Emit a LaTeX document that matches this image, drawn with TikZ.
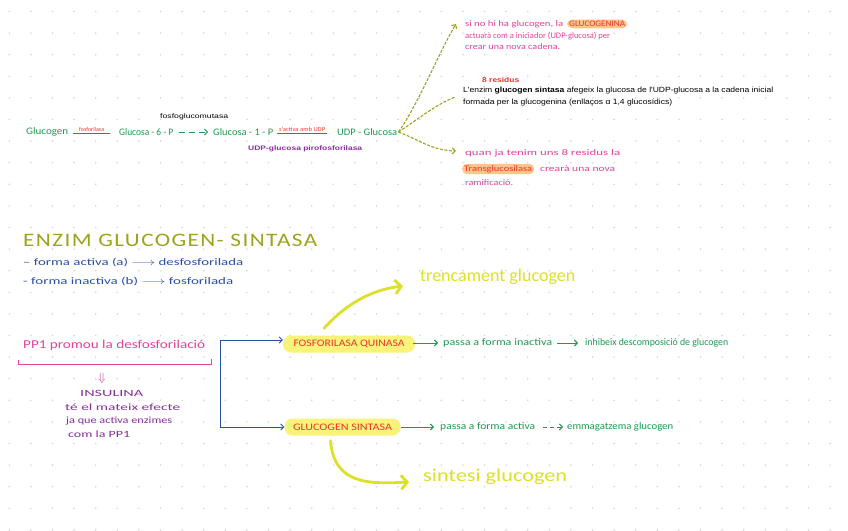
\documentclass[tikz,border=0pt]{standalone}
\usepackage{fontspec}
\usepackage{graphicx}
\setmainfont{Carlito}
\newfontfamily\printfont{Liberation Sans}
\newfontfamily\headfont[LetterSpace=6]{Carlito}
\usetikzlibrary{arrows.meta}
\newcommand\fw[2]{\resizebox{#1pt}{\height}{#2}}
\newcommand\fs[1]{\fontsize{#1}{#1}\selectfont}
\definecolor{grn}{HTML}{1E9A52}
\definecolor{redc}{HTML}{E8352B}
\definecolor{pnk}{HTML}{E0439A}
\definecolor{purp}{HTML}{8B2FA0}
\definecolor{blu}{HTML}{2B4FA3}
\definecolor{olv}{HTML}{9DA31C}
\definecolor{yel}{HTML}{DDE028}
\definecolor{hlor}{HTML}{FFC48A}
\definecolor{hlyel}{HTML}{F9F37A}
\definecolor{dotc}{HTML}{D6D6D6}
\begin{document}
\begin{tikzpicture}[x=1pt,y=-1pt,
  txt/.style={anchor=west,inner sep=0pt},
  hand/.style={txt,font=\fs{10}},
  prt/.style={txt,font=\printfont\fs{7.5}},
  pill/.style={fill=hlyel,rounded corners=8pt,inner sep=0pt,text=redc,font=\fs{10}},
  hl/.style={anchor=west,fill=hlor,rounded corners=5pt,inner xsep=2pt,inner ysep=1.5pt},
  olvline/.style={draw=olv,line width=1.1pt,dash pattern=on 3pt off 1.5pt},
  smallarr/.style={-{Straight Barb[length=3pt,width=6pt]}},
  yarr/.style={draw=yel,line width=2.8pt,line cap=round,-{Straight Barb[length=6pt,width=14pt,line width=2.8pt]}}
]
\useasboundingbox (0,0) rectangle (848,530);
\fill[white] (0,0) rectangle (848,530);
\foreach \i in {0,...,39}{\foreach \j in {0,...,24}{
  \fill[dotc] (9.3+21.6*\i,11.5+21.6*\j) circle (0.9pt);}}

% ---------- top row ----------
\node[hand,grn] (glucogen) at (26,132) {\fw{42}{Glucogen}};
\node[hand,grn] (g6p) at (119,132) {\fw{54}{Glucosa - 6 - P}};
\node[hand,grn] (g1p) at (213,132) {\fw{60}{Glucosa - 1 - P}};
\node[hand,grn] (udp) at (337,132) {\fw{60}{UDP - Glucosa}};
\draw[redc,line width=0.8pt] ([xshift=5pt,yshift=-1pt]glucogen.east) -- ([xshift=-9pt,yshift=-1pt]g6p.west)
  node[midway,above=0.8pt,font=\fs{6},text=redc,inner sep=0pt] (fosf) {fosforilasa};
\draw[grn,line width=0.8pt,smallarr,dash pattern=on 6pt off 4pt] ([xshift=6pt]g6p.east) -- ([xshift=-5pt]g1p.west);
\draw[redc,line width=0.8pt] ([xshift=4pt,yshift=-1pt]g1p.east) -- ([xshift=-10pt,yshift=-1pt]udp.west)
  node[midway,above=1pt,font=\fs{6},text=redc,inner sep=0pt] (uact) {\fw{46}{s'activa amb UDP}};
\node[prt,font=\printfont\fs{6.5}] (mutasa) at (160,117) {\fw{68}{fosfoglucomutasa}};
\node[prt,purp,font=\printfont\bfseries\fs{6.5}] (piro) at (248,149) {\fw{114}{UDP-glucosa pirofosforilasa}};

% ---------- notes at right ----------
\node[hand,pnk,font=\fs{8.5}] (n1a) at (465,24) {\fw{98}{si no hi ha glucogen, la}};
\node[hl,text=redc,font=\fs{8.5}] (gnina) at (567,24) {\fw{56}{GLUCOGENINA}};
\node[hand,pnk,font=\fs{8.5}] (n1b) at (465,36) {\fw{145}{actuarà com a iniciador (UDP-glucosa) per}};
\node[hand,pnk,font=\fs{8.5}] (n1c) at (465,47) {\fw{95}{crear una nova cadena.}};

\node[prt,redc,font=\printfont\bfseries\fs{7}] (res) at (482,80) {\fw{37}{8 residus}};
\node[prt] (b1) at (463,91) {\fw{310}{L'enzim \textbf{glucogen sintasa} afegeix la glucosa de l'UDP-glucosa a la cadena inicial}};
\node[prt] (b2) at (463,103) {\fw{209}{formada per la glucogenina (enllaços α 1,4 glucosídics)}};
\coordinate (midend) at (455,97);

\node[hand,pnk,font=\fs{8.5}] (n3a) at (465,153) {\fw{155}{quan ja tenim uns 8 residus la}};
\node[hl,text=redc,font=\fs{8.5}] (trg) at (462,169) {\fw{68}{Transglucosilasa}};
\node[hand,pnk,font=\fs{8.5}] (n3b) at (540,169) {\fw{75}{crearà una nova}};
\node[hand,pnk,font=\fs{8.5}] (n3c) at (465,183) {\fw{48}{ramificació.}};

\draw[olvline,smallarr] ([xshift=1pt]udp.east) .. controls (418,105) and (440,50) .. ([xshift=-9pt]n1a.west);
\draw[olvline] ([xshift=1pt]udp.east) .. controls (420,118) and (435,105) .. (midend);
\draw[olvline,smallarr] ([xshift=1pt]udp.east) .. controls (420,140) and (430,150) .. ([xshift=-9pt,yshift=2pt]n3a.west);

% ---------- heading ----------
\node[txt,olv,font=\headfont\fs{19}] (head) at (23,240) {\fw{294}{ENZIM GLUCOGEN- SINTASA}};
\node[hand,blu,font=\fs{10}] (fa) at (23,263) {\fw{220}{– forma activa (a) $\longrightarrow$ desfosforilada}};
\node[hand,blu,font=\fs{10}] (fi) at (23,282) {\fw{210}{- forma inactiva (b) $\longrightarrow$ fosforilada}};

% ---------- PP1 block ----------
\node[hand,pnk,font=\fs{12}] (pp1) at (23,345) {\fw{182}{PP1 promou la desfosforilació}};
\draw[pnk,line width=0.8pt] ([xshift=-5pt,yshift=-10pt]pp1.south west) -- ([xshift=-5pt,yshift=-14pt]pp1.south west)
  -- ([xshift=6pt,yshift=-14pt]pp1.south east) -- ([xshift=6pt,yshift=-9pt]pp1.south east);
\node[pnk,inner sep=0pt,font=\fs{12}] (darr) at (102,378) {$\Downarrow$};
\node[hand,purp,font=\fs{9.5}] (ins1) at (80,393) {\fw{63}{INSULINA}};
\node[hand,purp,font=\fs{9.5}] (ins2) at (65,407) {\fw{115}{té el mateix efecte}};
\node[hand,purp,font=\fs{9.5}] (ins3) at (66,421) {\fw{106}{ja que activa enzimes}};
\node[hand,purp,font=\fs{9.5}] (ins4) at (68,434) {\fw{62}{com la PP1}};

% ---------- kinase / synthase ----------
\node[pill,minimum width=132pt,minimum height=17pt] (fq) at (349,344) {\fw{111}{FOSFORILASA QUINASA}};
\node[pill,minimum width=116pt,minimum height=17pt] (gs) at (342.5,427) {\fw{99}{GLUCOGEN SINTASA}};
\coordinate (br) at (220,384);
\draw[blu,line width=0.9pt,smallarr] (br) |- ([yshift=4pt]fq.west);
\draw[blu,line width=0.9pt,smallarr] (br) |- (gs.west);

\node[hand,grn] (pi) at (443,343) {\fw{109}{passa a forma inactiva}};
\node[hand,grn] (inh) at (585,343) {\fw{143}{inhibeix descomposició de glucogen}};
\draw[grn,line width=0.9pt,smallarr] ([xshift=-2pt,yshift=1pt]fq.east) -- ([xshift=-5pt]pi.west);
\draw[grn,line width=0.9pt,smallarr] ([xshift=5pt]pi.east) -- ([xshift=-7pt]inh.west);

\node[hand,grn] (pa) at (440,427) {\fw{95}{passa a forma activa}};
\node[hand,grn] (emm) at (567,427) {\fw{106}{emmagatzema glucogen}};
\draw[grn,line width=0.9pt,smallarr] (gs.east) -- ([xshift=-6pt]pa.west);
\draw[grn,line width=0.9pt,smallarr,dash pattern=on 4pt off 3pt] ([xshift=8pt]pa.east) -- ([xshift=-4pt]emm.west);

% ---------- yellow arrows ----------
\node[hand,yel,font=\fs{18}] (tren) at (420,277) {\fw{155}{trencament glucogen}};
\node[hand,yel,font=\fs{18}] (sint) at (423,477) {\fw{144}{sintesi glucogen}};
\draw[yarr] ([xshift=-25pt,yshift=7pt]fq.north) .. controls (345,305) and (370,290) .. ([xshift=-17pt,yshift=-9pt]tren.west);
\draw[yarr] ([xshift=-12pt,yshift=-5pt]gs.south) .. controls (334,485) and (370,484) .. ([xshift=-14pt,yshift=-5pt]sint.west);
\end{tikzpicture}
\end{document}
